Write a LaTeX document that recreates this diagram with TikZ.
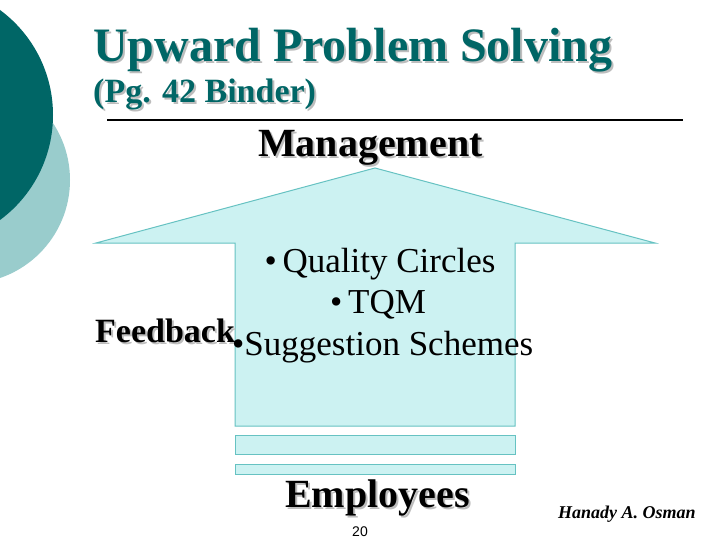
\documentclass[tikz,border=0pt]{standalone}
\usepackage{fontspec}
\setmainfont{Liberation Serif}
\setsansfont{Liberation Sans}

\definecolor{darkteal}{HTML}{006666}
\definecolor{paleteal}{HTML}{99CCCC}
\definecolor{arrowfill}{HTML}{CCF2F2}
\definecolor{arrowline}{HTML}{66C2C2}
\definecolor{shade}{HTML}{BDBDBD}

% shadowed text: name, position, font, colour, text
\newcommand{\shadowtext}[5]{%
  \node[txt, font=#3, text=shade, xshift=2pt, yshift=-2pt] at #2 {#5};
  \node[txt, font=#3, text=#4] (#1) at #2 {#5};}

\begin{document}
\begin{tikzpicture}[x=1pt, y=-1pt]
% define styles
\tikzstyle{txt}    = [anchor=base west, inner sep=0pt]
\tikzstyle{bullet} = [anchor=base, inner sep=0pt, font=\fontsize{35}{40}\selectfont]
\tikzstyle{arrow}  = [fill=arrowfill, draw=arrowline, line width=1pt]

\useasboundingbox[fill=white] (0,0) rectangle (720,540);

% corner circles
\fill[paleteal] (-33.6,180) circle (103.6);
\fill[darkteal] (-77.5,115) circle (130.5);

% heading
\shadowtext{title}{(93,62)}{\fontsize{48}{52}\selectfont\bfseries}{darkteal}{Upward Problem Solving}
\shadowtext{subtitle}{(93,103)}{\fontsize{34}{38}\selectfont\bfseries}{darkteal}{(Pg. 42 Binder)}
\draw[line width=1.5pt] (107,120) -- (683,120);

% upward arrow
\draw[arrow] (235,426) -- (235,243) -- (96,243) -- (375,168)
  -- (655,243) -- (515,243) -- (515,426) -- cycle;
\foreach \top/\bot in {435/454, 464/474}
    \draw[arrow] (235,\top) rectangle (515,\bot);

% labels
\shadowtext{mgmt}{(258,157)}{\fontsize{40}{44}\selectfont\bfseries}{black}{Management}
\shadowtext{employees}{(285,507)}{\fontsize{40}{44}\selectfont\bfseries}{black}{Employees}
\shadowtext{feedback}{(95,342)}{\fontsize{34}{38}\selectfont\bfseries}{black}{Feedback}

% bullet list
\node[bullet] (quality) at (380,272) {•\,Quality Circles};
\node[bullet] (tqm)     at (378,313) {•\,TQM};
\node[bullet, anchor=base west] (suggest) at (232,355) {•Suggestion Schemes};

% footer
\node[anchor=base, inner sep=0pt, font=\sffamily\fontsize{14}{16}\selectfont] (pagenum) at (360,536) {20};
\node[txt, font=\fontsize{18}{20}\selectfont\bfseries\itshape] (author) at (558,518) {Hanady A. Osman};
\end{tikzpicture}
\end{document}
